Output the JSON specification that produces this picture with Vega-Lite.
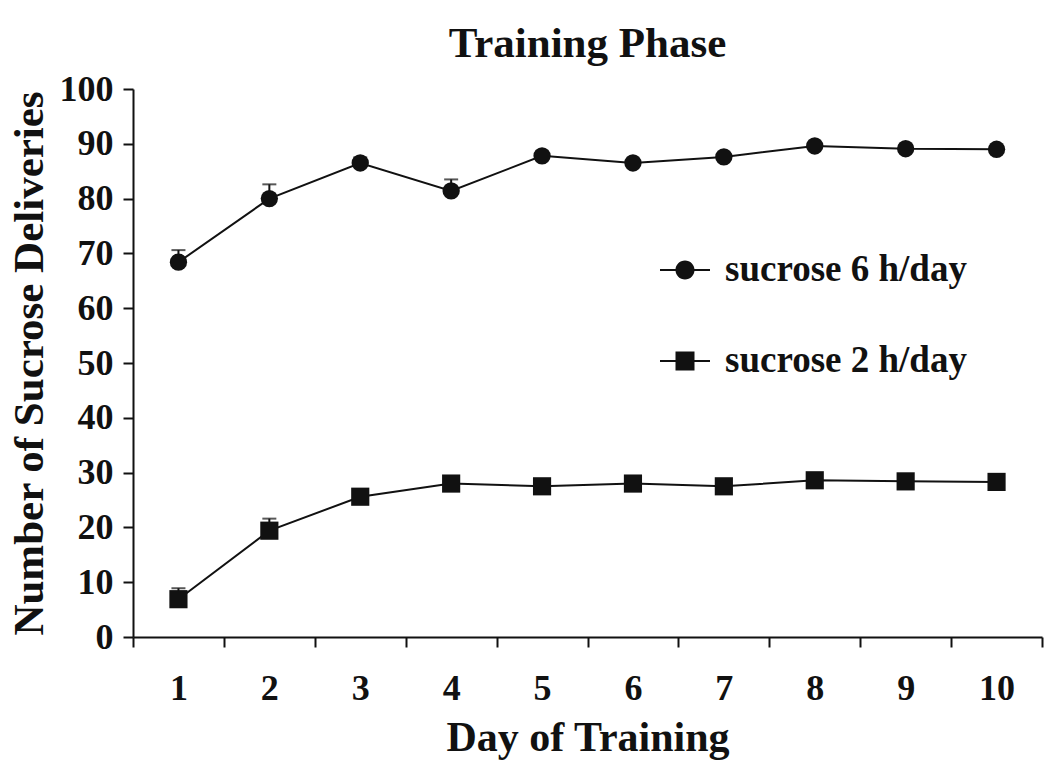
{
  "$schema": "https://vega.github.io/schema/vega-lite/v6.json",
  "autosize": "none",
  "width": 909,
  "height": 548,
  "padding": {"left": 133, "top": 89, "right": 8, "bottom": 137},
  "background": "white",
  "config": {
    "view": {"stroke": null},
    "font": "Liberation Serif",
    "axis": {"labelFont": "Liberation Serif", "titleFont": "Liberation Serif", "labelFontWeight": "bold", "titleFontWeight": "bold", "labelColor": "#111", "titleColor": "#111", "domainColor": "#111", "tickColor": "#111", "domainWidth": 2, "tickWidth": 2, "grid": false},
    "legend": {"labelFont": "Liberation Serif", "labelFontWeight": "bold", "labelColor": "#111"}
  },
  "title": {"text": "Training Phase", "font": "Liberation Serif", "fontWeight": "bold", "fontSize": 43, "color": "#111", "anchor": "middle", "frame": "group", "baseline": "alphabetic", "offset": 0, "dy": 29},
  "data": {"values": [
    {"day": 1, "group": "sucrose 6 h/day", "value": 68.4, "upper": 70.6},
    {"day": 2, "group": "sucrose 6 h/day", "value": 80.0, "upper": 82.6},
    {"day": 3, "group": "sucrose 6 h/day", "value": 86.5, "upper": 87.5},
    {"day": 4, "group": "sucrose 6 h/day", "value": 81.4, "upper": 83.5},
    {"day": 5, "group": "sucrose 6 h/day", "value": 87.8, "upper": 88.6},
    {"day": 6, "group": "sucrose 6 h/day", "value": 86.5, "upper": 87.2},
    {"day": 7, "group": "sucrose 6 h/day", "value": 87.6, "upper": 88.3},
    {"day": 8, "group": "sucrose 6 h/day", "value": 89.6, "upper": 90.2},
    {"day": 9, "group": "sucrose 6 h/day", "value": 89.1, "upper": 89.7},
    {"day": 10, "group": "sucrose 6 h/day", "value": 89.0, "upper": 89.6},
    {"day": 1, "group": "sucrose 2 h/day", "value": 6.9, "upper": 8.9},
    {"day": 2, "group": "sucrose 2 h/day", "value": 19.4, "upper": 21.6},
    {"day": 3, "group": "sucrose 2 h/day", "value": 25.6, "upper": 26.4},
    {"day": 4, "group": "sucrose 2 h/day", "value": 28.0, "upper": 28.7},
    {"day": 5, "group": "sucrose 2 h/day", "value": 27.5, "upper": 28.2},
    {"day": 6, "group": "sucrose 2 h/day", "value": 28.0, "upper": 28.7},
    {"day": 7, "group": "sucrose 2 h/day", "value": 27.5, "upper": 28.2},
    {"day": 8, "group": "sucrose 2 h/day", "value": 28.6, "upper": 29.3},
    {"day": 9, "group": "sucrose 2 h/day", "value": 28.4, "upper": 29.1},
    {"day": 10, "group": "sucrose 2 h/day", "value": 28.3, "upper": 29.0}
  ]},
  "encoding": {
    "x": {"field": "day", "type": "ordinal", "scale": {"paddingInner": 0, "paddingOuter": 0},
      "axis": {"title": "Day of Training", "labelAngle": 0, "labelFontSize": 36, "titleFontSize": 42, "tickBand": "extent", "tickSize": 10, "labelPadding": 24, "titleY": 113, "titleBaseline": "alphabetic"}},
    "y": {"field": "value", "type": "quantitative", "scale": {"domain": [0, 100], "nice": false},
      "axis": {"title": "Number of Sucrose Deliveries", "values": [0, 10, 20, 30, 40, 50, 60, 70, 80, 90, 100], "labelFontSize": 36, "titleFontSize": 43, "tickSize": 10, "labelPadding": 10, "titleX": -91, "titleY": 274, "titleAngle": -90, "titleAlign": "center", "titleBaseline": "alphabetic"}}
  },
  "layer": [
    {"mark": {"type": "rule", "color": "#111", "strokeWidth": 2},
     "encoding": {"y2": {"field": "upper"}}},
    {"mark": {"type": "tick", "color": "#111", "thickness": 2, "size": 14},
     "encoding": {"y": {"field": "upper", "type": "quantitative"}}},
    {"mark": {"type": "line", "color": "#111", "strokeWidth": 2},
     "encoding": {"detail": {"field": "group"}}},
    {"mark": {"type": "point", "filled": true, "color": "#111", "opacity": 1},
     "encoding": {
       "shape": {"field": "group", "type": "nominal", "scale": {"domain": ["sucrose 6 h/day", "sucrose 2 h/day"], "range": ["circle", "square"]}, "legend": null},
       "size": {"field": "group", "type": "nominal", "scale": {"domain": ["sucrose 6 h/day", "sucrose 2 h/day"], "range": [300, 330]}, "legend": null}
     }},
    {"mark": {"type": "point", "filled": true, "color": "#111", "opacity": 0, "size": 2500},
     "encoding": {
       "shape": {"field": "group", "type": "nominal",
         "scale": {"domain": ["sucrose 6 h/day", "sucrose 2 h/day"], "range": ["M-1,-0.04H1V0.04H-1ZM0.38,0A0.38,0.38 0 1,1 -0.38,0A0.38,0.38 0 1,1 0.38,0Z", "M-1,-0.04H1V0.04H-1ZM-0.38,-0.38H0.38V0.38H-0.38Z"]},
         "legend": {"title": null, "orient": "none", "legendX": 527, "legendY": 156, "symbolSize": 2500, "symbolOpacity": 1, "symbolFillColor": "#111", "symbolStrokeColor": "#111", "symbolStrokeWidth": 0, "labelFontSize": 37, "labelOffset": 15, "rowPadding": 48, "labelLimit": 400, "padding": 0}}
     }}
  ],
  "resolve": {"scale": {"shape": "independent", "size": "independent"}, "legend": {"shape": "independent"}}
}
